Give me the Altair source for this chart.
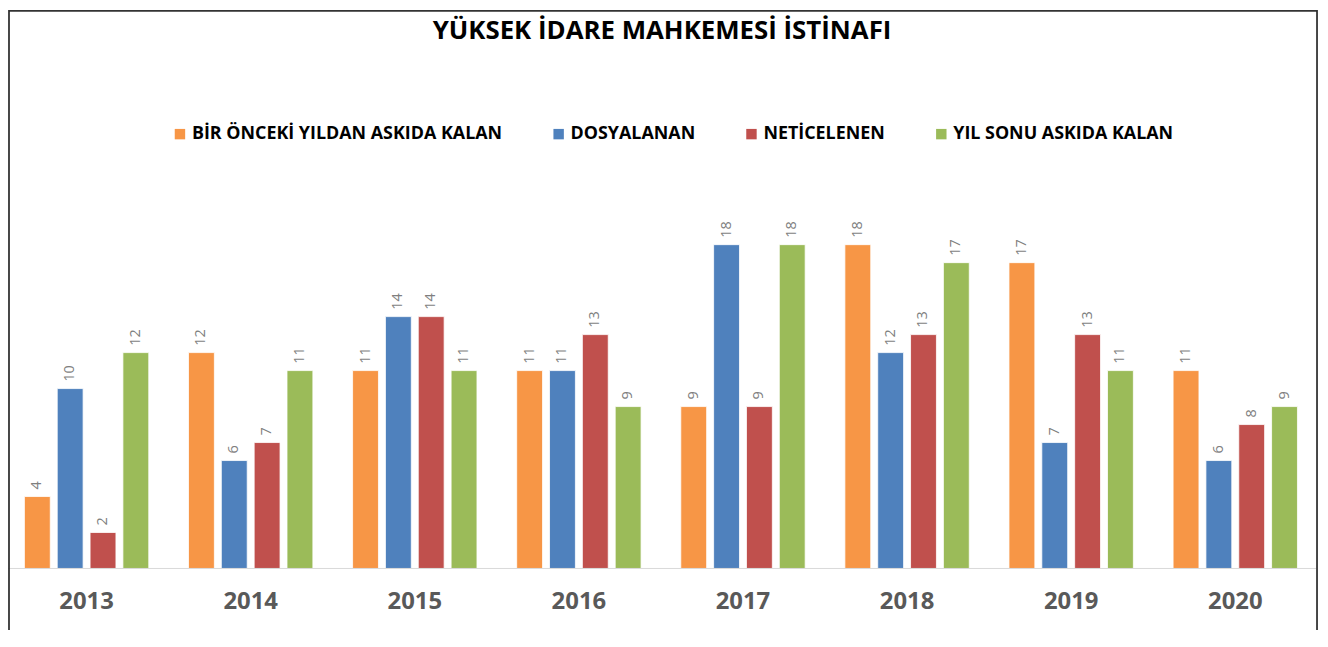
import altair as alt
import pandas as pd

years = ["2013", "2014", "2015", "2016", "2017", "2018", "2019", "2020"]
series = ["BİR ÖNCEKİ YILDAN ASKIDA KALAN", "DOSYALANAN", "NETİCELENEN", "YIL SONU ASKIDA KALAN"]
onceki = [4, 12, 11, 11, 9, 18, 17, 11]
dosyalanan = [10, 6, 14, 11, 18, 12, 7, 6]
neticelenen = [2, 7, 14, 13, 9, 13, 13, 8]
yil_sonu = [12, 11, 11, 9, 18, 17, 11, 9]
colors = ["#F79646", "#4F81BD", "#C0504D", "#9BBB59"]
title = "YÜKSEK İDARE MAHKEMESİ İSTİNAFI"

rows = []
for s, vals in zip(series, [onceki, dosyalanan, neticelenen, yil_sonu]):
    for y, v in zip(years, vals):
        rows.append({"year": y, "series": s, "value": v})
df = pd.DataFrame(rows)

W, H = 1316, 362
FONT = "Open Sans"

x_enc = alt.X(
    "year:N",
    sort=years,
    title=None,
    scale=alt.Scale(paddingInner=0.242, paddingOuter=0.1065, align=0.469),
    axis=alt.Axis(
        labelAngle=0,
        labelFont=FONT,
        labelFontSize=24,
        labelFontWeight="bold",
        labelColor="#595959",
        labelPadding=21,
        ticks=False,
        domain=False,
        grid=False,
    ),
)
xoff = alt.XOffset("series:N", sort=series, scale=alt.Scale(paddingInner=0.212, paddingOuter=0))
y_enc = alt.Y("value:Q", scale=alt.Scale(domain=[0, 20]), axis=None)

base = alt.Chart(df).encode(x=x_enc, xOffset=xoff, y=y_enc)

bars = base.mark_bar(stroke="white", strokeWidth=0.8).encode(
    color=alt.Color(
        "series:N",
        sort=series,
        scale=alt.Scale(domain=series, range=colors),
        legend=alt.Legend(
            title=None,
            orient="none",
            direction="horizontal",
            columns=4,
            legendX=164,
            legendY=-84,
            symbolType="square",
            symbolSize=110,
            symbolStrokeWidth=0,
            labelFont=FONT,
            labelFontSize=18,
            labelFontWeight="bold",
            labelColor="#000000",
            labelLimit=500,
            labelOffset=3,
            columnPadding=47,
            padding=0,
        ),
    )
)

labels = base.mark_text(
    angle=270,
    align="left",
    baseline="middle",
    dx=7,
    font=FONT,
    fontSize=14.5,
    color="#7f7f7f",
).encode(text="value:Q")

baseline_rule = alt.Chart(pd.DataFrame({"z": [0]})).mark_rule(
    color="#d9d9d9", strokeWidth=1
).encode(y=alt.datum(0))

frame = alt.Chart(pd.DataFrame({"f": [0]})).mark_rect(
    filled=False, stroke="#333333", strokeWidth=1.8
).encode(
    x=alt.value(1),
    x2=alt.value(W + 1),
    y=alt.value(-199),
    y2=alt.value(H + 120),
)

chart = (
    alt.layer(bars, labels, baseline_rule, frame)
    .properties(
        width=W,
        height=H,
        background="white",
        autosize=alt.AutoSizeParams(type="none"),
        padding={"left": 0, "top": 200, "right": 4, "bottom": 60},
        title=alt.TitleParams(
            text=title,
            font=FONT,
            fontSize=26,
            fontWeight="bold",
            color="#000000",
            anchor="middle",
            frame="group",
            offset=-34,
        ),
    )
    .configure_view(stroke=None)
)

chart.save("out.html", embed_options={"renderer": "svg", "actions": False})
